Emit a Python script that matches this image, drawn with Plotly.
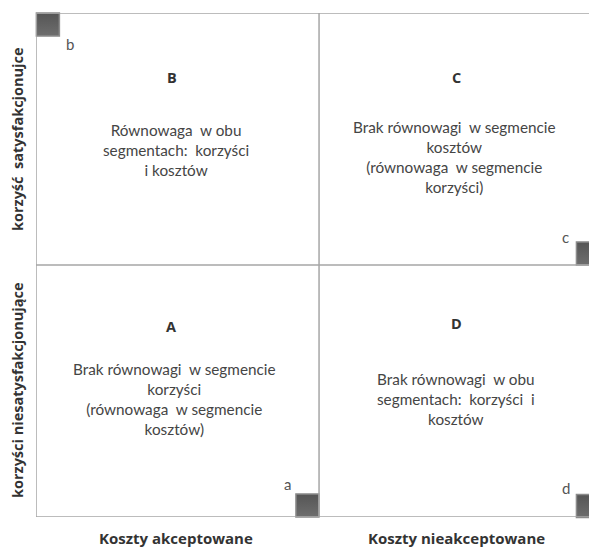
import plotly.graph_objects as go

# Quadrant corner markers
marker_names = ["a", "b", "c", "d"]
marker_x = [0.959, 0.042, 1.950, 1.950]
marker_y = [0.046, 1.954, 1.046, 0.044]
label_x = [0.887, 0.120, 1.872, 1.872]
label_y = [0.131, 1.877, 1.111, 0.115]

# Quadrant titles and descriptions
quad_names = ["A", "B", "C", "D"]
quad_title_x = [0.477, 0.480, 1.484, 1.484]
quad_title_y = [0.754, 1.746, 1.746, 0.766]
quad_desc_x = [0.491, 0.495, 1.480, 1.484]
quad_desc_y = [0.468, 1.456, 1.429, 0.470]
quad_desc = [
    "Brak równowagi  w segmencie<br>korzyści<br>(równowaga  w segmencie<br>kosztów)",
    "Równowaga  w obu<br>segmentach:  korzyści<br>i kosztów",
    "Brak równowagi  w segmencie<br>kosztów<br>(równowaga  w segmencie<br>korzyści)",
    "Brak równowagi  w obu<br>segmentach:  korzyści  i<br>kosztów",
]

# Axis category labels
x_labels = ["Koszty akceptowane", "Koszty nieakceptowane"]
x_label_pos = [0.495, 1.484]
y_labels = ["korzyści niesatysfakcjonujące", "korzyść  satysfakcjonujce"]
y_label_pos = [0.50, 1.50]

X_MAX = 1.982
Y_MAX = 2.0
MID_X = 1.0
MID_Y = 1.0

FONT = "Lato, Open Sans, sans-serif"
BOLD_FONT = "Open Sans, sans-serif"

fig = go.Figure()

fig.add_trace(go.Scatter(
    x=marker_x, y=marker_y, mode="markers",
    marker=dict(symbol="square", size=23, color="#555555",
                gradient=dict(type="vertical", color="#6e6e6e"),
                line=dict(color="#8c8c8c", width=1.5)),
    cliponaxis=False, hoverinfo="skip", showlegend=False,
))

line_style = dict(color="#a6a6a6", width=1.5)
shapes = [
    dict(type="line", xref="x", yref="y", x0=0, x1=0, y0=0, y1=Y_MAX, line=line_style),
    dict(type="line", xref="x", yref="y", x0=0, x1=X_MAX, y0=Y_MAX, y1=Y_MAX, line=line_style),
    dict(type="line", xref="x", yref="y", x0=0, x1=X_MAX, y0=0, y1=0, line=line_style),
    dict(type="line", xref="x", yref="y", x0=MID_X, x1=MID_X, y0=0, y1=Y_MAX, line=line_style),
    dict(type="line", xref="x", yref="y", x0=0, x1=X_MAX, y0=MID_Y, y1=MID_Y, line=line_style),
]

annotations = []
for n, x, y in zip(marker_names, label_x, label_y):
    annotations.append(dict(x=x, y=y, xref="x", yref="y", text=n, showarrow=False,
                            font=dict(family=FONT, size=15, color="#555555")))
for n, x, y in zip(quad_names, quad_title_x, quad_title_y):
    annotations.append(dict(x=x, y=y, xref="x", yref="y", text="<b>" + n + "</b>", showarrow=False,
                            font=dict(family=BOLD_FONT, size=14.5, color="#333333")))
for t, x, y in zip(quad_desc, quad_desc_x, quad_desc_y):
    annotations.append(dict(x=x, y=y, xref="x", yref="y", text=t, showarrow=False,
                            align="center",
                            font=dict(family=FONT, size=15.3, color="#454545")))
for t, x in zip(x_labels, x_label_pos):
    annotations.append(dict(x=x, y=0, xref="x", yref="paper", yanchor="middle", yshift=-21,
                            text="<b>" + t + "</b>", borderpad=0,
                            showarrow=False, font=dict(family=BOLD_FONT, size=15, color="#333333")))
for t, y in zip(y_labels, y_label_pos):
    annotations.append(dict(x=0, y=y, xref="paper", yref="y", xanchor="center", xshift=-19,
                            text="<b>" + t + "</b>", borderpad=0,
                            showarrow=False, textangle=-90,
                            font=dict(family=BOLD_FONT, size=14.5, color="#333333")))

# the page body adds an 8px margin, so the figure is 8px smaller on each axis
fig.update_layout(
    width=589, height=541,
    margin=dict(l=28, r=0, t=5, b=32),
    paper_bgcolor="white", plot_bgcolor="white",
    xaxis=dict(range=[0, X_MAX], visible=False, fixedrange=True),
    yaxis=dict(range=[0, Y_MAX], visible=False, fixedrange=True),
    shapes=shapes, annotations=annotations,
    showlegend=False,
)

fig.write_html("out.html")
